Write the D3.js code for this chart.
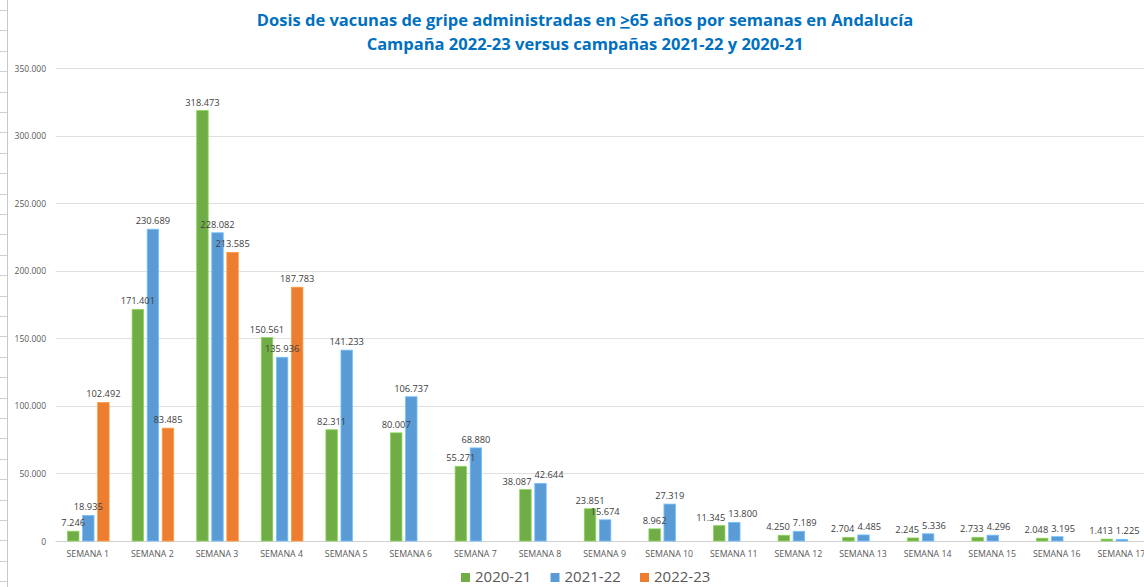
<!DOCTYPE html>
<html><head><meta charset="utf-8">
<script src="https://cdn.jsdelivr.net/npm/d3@7"></script>
<style>body{margin:0;background:#fff;} svg{display:block;}</style>
</head><body>
<svg id="c" width="1144" height="587"></svg>
<script>
const categories = ["SEMANA 1","SEMANA 2","SEMANA 3","SEMANA 4","SEMANA 5","SEMANA 6","SEMANA 7","SEMANA 8","SEMANA 9","SEMANA 10","SEMANA 11","SEMANA 12","SEMANA 13","SEMANA 14","SEMANA 15","SEMANA 16","SEMANA 17"];
const seriesNames = ["2020-21","2021-22","2022-23"];
const s2020 = [7246,171401,318473,150561,82311,80007,55271,38087,23851,8962,11345,4250,2704,2245,2733,2048,1413];
const s2021 = [18935,230689,228082,135936,141233,106737,68880,42644,15674,27319,13800,7189,4485,5336,4296,3195,1225];
const s2022 = [102492,83485,213585,187783,null,null,null,null,null,null,null,null,null,null,null,null,null];
const yTicks = [0,50000,100000,150000,200000,250000,300000,350000];
const colors = ["#70ad47","#5b9bd5","#ed7d31"];

(function(){
const svg = d3.select("#c");
const plotLeft = 55.5, bandW = 64.6, plotTop = 68, plotBottom = 541;
const x = d3.scaleBand().domain(categories).range([plotLeft, plotLeft + bandW*categories.length]).paddingInner(0).paddingOuter(0);
const y = d3.scaleLinear().domain([0,350000]).range([plotBottom, plotTop]);
const inner = d3.scaleBand().domain(seriesNames).range([12, bandW-11]).paddingInner(0.24);
const fmt = v => d3.format(",")(v).replace(/,/g,".");

// spreadsheet edge decoration
const rows = d3.range(0, 29);
svg.append("g").selectAll("line").data(rows).join("line")
  .attr("x1",0).attr("x2",7).attr("y1",d=>10.5+Math.round(d*20.4)).attr("y2",d=>10.5+Math.round(d*20.4))
  .attr("stroke","#d0d0d0").attr("stroke-width",1);
svg.append("line").attr("x1",7.5).attr("x2",7.5).attr("y1",0).attr("y2",587).attr("stroke","#c8c8c8");

// gridlines
svg.append("g").selectAll("line").data(yTicks).join("line")
  .attr("x1",plotLeft).attr("x2",1144)
  .attr("y1",d=>Math.round(y(d))+0.5).attr("y2",d=>Math.round(y(d))+0.5)
  .attr("stroke",d=>d===0?"#d0d0d0":"#e0e0e0").attr("stroke-width",1);

// y axis labels
svg.append("g").selectAll("text").data(yTicks).join("text")
  .attr("x",46).attr("y",d=>y(d)+3.5).attr("text-anchor","end")
  .attr("font-family","Open Sans, sans-serif").attr("font-size",8.5).attr("fill","#595959")
  .text(d=>fmt(d));

// x axis labels
svg.append("g").selectAll("text").data(categories).join("text")
  .attr("x",d=>x(d)+bandW/2).attr("y",557).attr("text-anchor","middle")
  .attr("font-family","Open Sans, sans-serif").attr("font-size",8.8).attr("fill","#595959")
  .text(d=>d);

const all = [s2020,s2021,s2022];
const points = [];
all.forEach((arr,si)=>arr.forEach((v,ci)=>{ if(v!=null) points.push({s:seriesNames[si],si,c:categories[ci],v}); }));

svg.append("g").selectAll("rect").data(points).join("rect")
  .attr("x",d=>x(d.c)+inner(d.s)).attr("width",inner.bandwidth())
  .attr("y",d=>y(d.v)).attr("height",d=>y(0)-y(d.v))
  .attr("fill",d=>colors[d.si]).attr("stroke",d=>d3.color(colors[d.si]).brighter(0.6)).attr("stroke-width",0.8);

const labels = svg.append("g").selectAll("text").data(points).join("text")
  .attr("text-anchor","middle")
  .attr("font-family","Open Sans, sans-serif").attr("font-size",9.3).attr("fill","#404040")
  .text(d=>fmt(d.v));
// compute positions and push apart overlapping labels within a category
labels.each(function(d){
  d.lx = x(d.c)+inner(d.s)+inner.bandwidth()/2;
  d.ly = y(d.v)-5;
  d.w = this.getComputedTextLength();
});
categories.forEach(c=>{
  const ls = points.filter(p=>p.c===c);
  for(let k=0;k<2;k++){
    for(let i=1;i<ls.length;i++){
      const a = ls[i-1], b = ls[i];
      if(Math.abs(a.ly-b.ly) < 11){
        const overlap = (a.lx + a.w/2 + 3) - (b.lx - b.w/2);
        if(overlap > 0){ a.lx -= overlap/2; b.lx += overlap/2; }
      }
    }
  }
});
labels.attr("x",d=>d.lx).attr("y",d=>d.ly);

// title
const t = svg.append("text").attr("text-anchor","middle").attr("font-family","Open Sans, sans-serif")
  .attr("font-weight","bold").attr("font-size",16.5).attr("fill","#0070c0");
t.append("tspan").attr("x",585).attr("y",26).text("Dosis  de vacunas de gripe administradas en ");
t.append("tspan").attr("text-decoration","underline").text(">");
t.append("tspan").text("65 años por semanas en Andalucía");
svg.append("text").attr("text-anchor","middle").attr("font-family","Open Sans, sans-serif")
  .attr("font-weight","bold").attr("font-size",16.5).attr("fill","#0070c0")
  .attr("x",585).attr("y",50).text("Campaña 2022-23 versus campañas 2021-22 y 2020-21");

// legend
const lg = svg.append("g").attr("transform","translate(461,582)");
const item = lg.selectAll("g").data(seriesNames).join("g").attr("transform",(d,i)=>`translate(${i*89.5},0)`);
item.append("rect").attr("x",0).attr("y",-9).attr("width",9).attr("height",9).attr("fill",(d,i)=>colors[i]);
item.append("text").attr("x",14).attr("y",0).attr("font-family","Open Sans, sans-serif").attr("font-size",15).attr("fill","#595959").text(d=>d);
})();
</script>
</body></html>
